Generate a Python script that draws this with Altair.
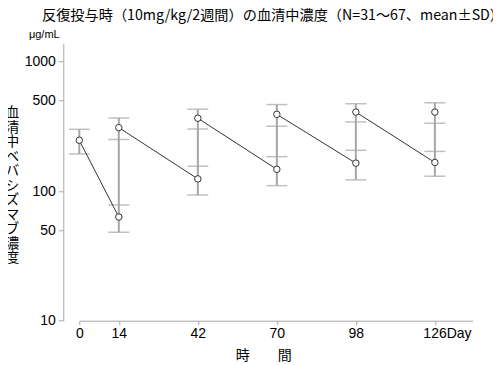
import altair as alt
import pandas as pd

# ---- data ----
days = [0, 14, 14, 42, 42, 70, 70, 98, 98, 126, 126]
kind = ["peak", "trough", "peak", "trough", "peak", "trough", "peak", "trough", "peak", "trough", "peak"]
segment = [0, 0, 1, 1, 2, 2, 3, 3, 4, 4, 5]
means = [246, 63, 308, 124, 364, 147, 390, 164, 406, 166, 406]
sds = [53, 15, 58, 31, 63, 37, 74, 42, 65, 36, 73]

x_ticks = [0, 14, 42, 70, 98, 126]
y_ticks = [10, 50, 100, 500, 1000]

title_text = "反復投与時（10mg/kg/2週間）の血清中濃度（N=31～67、mean±SD）"
y_title_chars = list("血清中ベバシズマブ濃度")
x_title = "時　　間"
unit_text = "μg/mL"

df = pd.DataFrame({
    "day": days,
    "kind": kind,
    "seg": segment,
    "mean": means,
    "sd": sds,
})
df["lo"] = df["mean"] - df["sd"]
df["hi"] = df["mean"] + df["sd"]

LAT = "Liberation Sans"
JP = "Noto Sans CJK JP"
GRAY = "#a6a6a6"

xscale = alt.Scale(domain=[0, 139.4], nice=False, zero=False)
yscale = alt.Scale(type="log", domain=[10, 1377], nice=False)

xaxis = alt.Axis(
    values=x_ticks,
    labelExpr="datum.value == 126 ? '126Day' : datum.label",
    labelAlign=alt.ConditionalAxisLabelAlign(condition={"test": "datum.value == 126", "value": "left"}, value="center"),
    labelOffset={"condition": {"test": "datum.value == 126", "value": -12}, "value": 0},
    grid=False,
    domainColor=GRAY,
    tickColor=GRAY,
    tickSize=4,
    labelFont=LAT,
    labelFontSize=14,
    labelColor="#000",
    labelPadding=2,
    title=x_title,
    titleFont=JP,
    titleFontSize=14,
    titleFontWeight="normal",
    titleColor="#000",
    titleX=184,
    titleY=35,
    titleBaseline="middle",
    titleAlign="center",
)

yaxis = alt.Axis(
    values=y_ticks,
    format="d",
    grid=False,
    offset=16,
    domainColor=GRAY,
    tickColor=GRAY,
    tickSize=5,
    labelFont=LAT,
    labelFontSize=14,
    labelColor="#000",
    labelPadding=3,
    title="",
)

base = alt.Chart(df)

bars = base.mark_rule(color=GRAY, strokeWidth=2).encode(
    x=alt.X("day:Q", scale=xscale, axis=xaxis),
    y=alt.Y("min(lo):Q", scale=yscale, axis=yaxis),
    y2="max(hi):Q",
)

caps_lo = base.mark_tick(orient="horizontal", size=21, thickness=1.5, color=GRAY).encode(
    x=alt.X("day:Q", scale=xscale),
    y=alt.Y("lo:Q", scale=yscale),
)
caps_hi = base.mark_tick(orient="horizontal", size=21, thickness=1.5, color=GRAY).encode(
    x=alt.X("day:Q", scale=xscale),
    y=alt.Y("hi:Q", scale=yscale),
)

lines = base.mark_line(color="#333", strokeWidth=1).encode(
    x=alt.X("day:Q", scale=xscale),
    y=alt.Y("mean:Q", scale=yscale),
    detail="seg:N",
    order="day:Q",
)

points = base.mark_point(shape="circle", filled=True, fill="white", stroke="#333", strokeWidth=1, size=42, opacity=1).encode(
    x=alt.X("day:Q", scale=xscale),
    y=alt.Y("mean:Q", scale=yscale),
)

unit = alt.Chart(pd.DataFrame({"t": [unit_text]})).mark_text(
    font=LAT, fontSize=11, color="#000", align="center", baseline="middle"
).encode(
    x=alt.value(-35),
    y=alt.value(-8),
    text="t:N",
)

ytitle = alt.Chart(pd.DataFrame({"t": ["\n".join(y_title_chars)]})).mark_text(
    font=JP, fontSize=14, color="#000", align="center", baseline="top",
    lineBreak="\n", lineHeight=14.5
).encode(
    x=alt.value(-67),
    y=alt.value(63),
    text="t:N",
)

chart = alt.layer(bars, caps_lo, caps_hi, lines, points, unit, ytitle).properties(
    width=393.4,
    height=277.4,
    title=alt.TitleParams(
        text=title_text,
        font=JP,
        fontSize=14.2,
        fontWeight="normal",
        color="#000",
        anchor="middle",
        dx=-3,
        offset=6,
    ),
    padding={"left": 71.3, "top": 35.3, "right": 20, "bottom": 44},
    autosize=alt.AutoSizeParams(type="none"),
).configure_view(stroke=None)

chart.save("out.html", embed_options={"renderer": "svg", "actions": False})
